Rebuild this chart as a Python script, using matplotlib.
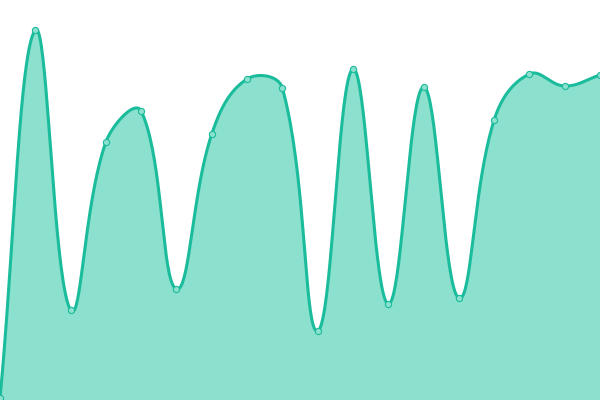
import numpy as np
import matplotlib
matplotlib.use("Agg")
import matplotlib.pyplot as plt

# values (0 = bottom edge, 400 = top edge)
values = [2, 370, 90, 258, 289, 111, 266, 321, 312, 69, 331, 96, 313, 102, 280, 326, 314, 325]
labels = list(range(len(values)))

line_color = "#1abc9c"
fill_color = "#8be0ce"
point_color = "#8be0ce"
tension = 0.4


def spline_controls(pts, t):
    """Chart.js style cubic control points, computed in pixel space."""
    n = len(pts)
    cps = []
    for i in range(n):
        prev = pts[i - 1] if i > 0 else pts[i]
        cur = pts[i]
        nxt = pts[i + 1] if i < n - 1 else pts[i]
        d01 = np.hypot(*(cur - prev))
        d12 = np.hypot(*(nxt - cur))
        tot = d01 + d12
        s01 = d01 / tot if tot else 0
        s12 = d12 / tot if tot else 0
        fa = t * s01
        fb = t * s12
        cps.append((cur - fa * (nxt - prev), cur + fb * (nxt - prev)))
    return cps


fig = plt.figure(figsize=(6, 4), dpi=100)
ax = fig.add_axes([0, 0, 1, 1])
ax.set_xlim(0, len(values) - 1)
ax.set_ylim(0, 400)
ax.axis("off")

# to pixel space, build bezier, back to data space
data = np.column_stack([labels, values]).astype(float)
pix = ax.transData.transform(data)
cps = spline_controls(pix, tension)
W, H = fig.bbox.width, fig.bbox.height
curve = []
s = np.linspace(0, 1, 40)[:, None]
for i in range(len(pix) - 1):
    p0 = pix[i]
    c1 = np.clip(cps[i][1], [0, 0], [W, H])
    c2 = np.clip(cps[i + 1][0], [0, 0], [W, H])
    p3 = pix[i + 1]
    seg = ((1 - s) ** 3) * p0 + 3 * ((1 - s) ** 2) * s * c1 + 3 * (1 - s) * s ** 2 * c2 + s ** 3 * p3
    curve.append(seg if i == 0 else seg[1:])
curve = ax.transData.inverted().transform(np.vstack(curve))

ax.fill_between(curve[:, 0], curve[:, 1], 0, color=fill_color, linewidth=0)
ax.plot(curve[:, 0], curve[:, 1], color=line_color, linewidth=2.2, solid_capstyle="round")
ax.scatter(labels, values, s=20, facecolor=point_color, edgecolor=line_color,
           linewidth=0.8, zorder=3, clip_on=False)

fig.savefig("out.png", dpi=100)
